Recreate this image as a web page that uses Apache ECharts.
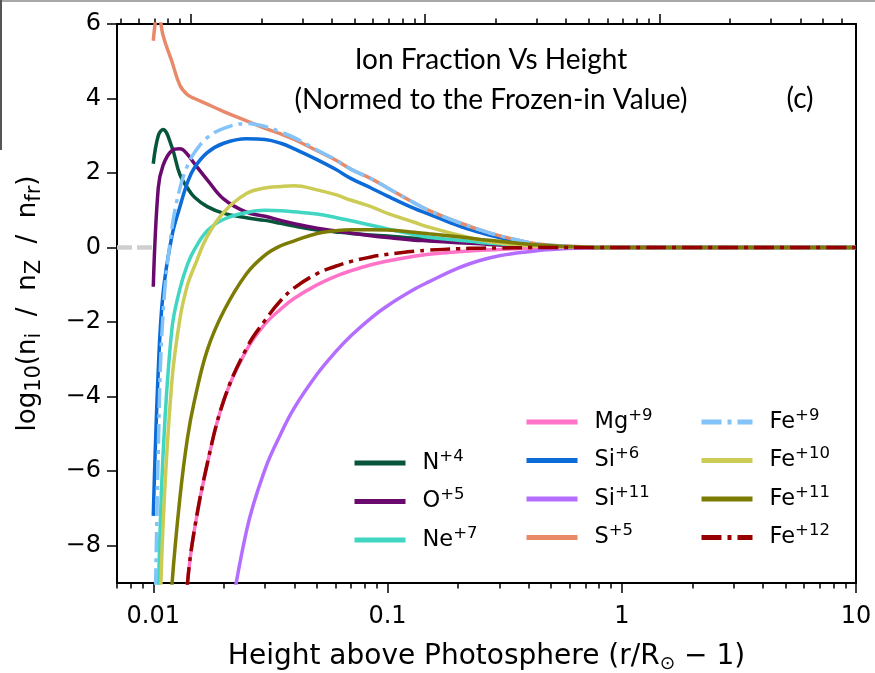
<!DOCTYPE html>
<html>
<head>
<meta charset="utf-8">
<script src="https://cdn.jsdelivr.net/npm/echarts@6/dist/echarts.min.js"></script>
<style>
  html, body { margin: 0; padding: 0; background: #fff; }
  #chart { width: 875px; height: 673px; }
</style>
</head>
<body>
<div id="chart"></div>
<script>
// heights above photosphere (r/Rsun - 1), shared by all curves
const heights = [0.01, 0.0105, 0.011, 0.012, 0.013, 0.014, 0.015, 0.017, 0.02, 0.025, 0.03, 0.035, 0.04,
  0.05, 0.06, 0.07, 0.085, 0.1, 0.13, 0.15, 0.2, 0.25, 0.3, 0.4, 0.5, 0.7, 1, 2, 5, 10]

// log10(ni / nZ / nfr), null = not drawn
const n4 = [2.25, 3.0, 3.17, 2.7, 1.95, 1.6, 1.35, 1.1, 0.92, 0.8, 0.73, 0.65, 0.58, 0.47, 0.42, 0.38, 0.34, 0.31, 0.25, 0.23, 0.17, 0.14, 0.11, 0.07, 0.04, 0.01, 0, 0, 0, 0]
const o5 = [-1.05, 1.6, 2.2, 2.6, 2.65, 2.5, 2.25, 1.82, 1.3, 0.95, 0.84, 0.73, 0.64, 0.52, 0.45, 0.39, 0.32, 0.27, 0.2, 0.18, 0.13, 0.1, 0.07, 0.04, 0.02, 0.01, 0, 0, 0, 0]
const ne7 = [null, -9.5, -5.6, -2.2, -1.1, -0.45, -0.05, 0.45, 0.76, 0.94, 1.0, 0.99, 0.96, 0.9, 0.81, 0.72, 0.6, 0.5, 0.35, 0.28, 0.2, 0.14, 0.1, 0.05, 0.03, 0.01, 0, 0, 0, 0]
const mg9 = [null, null, null, null, -12, -9.0, -7.55, -5.8, -4.1, -2.75, -2.05, -1.65, -1.36, -1.0, -0.77, -0.62, -0.46, -0.36, -0.23, -0.18, -0.11, -0.07, -0.05, -0.02, -0.01, 0, 0, 0, 0, 0]
const si6 = [-7.2, -3.3, -1.25, 0.3, 1.1, 1.75, 2.15, 2.55, 2.8, 2.92, 2.9, 2.8, 2.65, 2.36, 2.1, 1.85, 1.6, 1.38, 1.05, 0.9, 0.59, 0.4, 0.27, 0.12, 0.05, 0.01, 0, 0, 0, 0]
const si11 = [null, null, null, null, null, null, null, null, -11, -7.6, -5.95, -5.0, -4.3, -3.4, -2.8, -2.36, -1.89, -1.56, -1.12, -0.92, -0.55, -0.34, -0.22, -0.11, -0.05, -0.01, 0, 0, 0, 0]
const s5 = [5.55, 6.4, 5.7, 5.0, 4.35, 4.1, 4.0, 3.85, 3.65, 3.4, 3.2, 3.05, 2.9, 2.6, 2.35, 2.1, 1.85, 1.6, 1.2, 1.0, 0.68, 0.47, 0.32, 0.14, 0.06, 0.02, 0, 0, 0, 0]
const fe9 = [-13, -5.5, -1.8, 0.5, 1.6, 2.2, 2.55, 2.95, 3.2, 3.33, 3.25, 3.1, 2.95, 2.62, 2.36, 2.1, 1.85, 1.6, 1.2, 1.0, 0.68, 0.47, 0.32, 0.14, 0.06, 0.02, 0, 0, 0, 0]
const fe10 = [null, -12, -7.5, -3.6, -1.9, -1.0, -0.5, 0.3, 0.95, 1.45, 1.6, 1.64, 1.66, 1.55, 1.42, 1.27, 1.1, 0.92, 0.68, 0.55, 0.34, 0.2, 0.12, 0.05, 0.02, 0.01, 0, 0, 0, 0]
const fe11 = [null, null, -13, -9.1, -6.7, -5.1, -4.1, -2.75, -1.7, -0.7, -0.2, 0.05, 0.18, 0.38, 0.45, 0.48, 0.48, 0.47, 0.41, 0.37, 0.29, 0.22, 0.17, 0.09, 0.05, 0.01, 0, 0, 0, 0]
const fe12 = [null, null, null, null, -12, -9.0, -7.55, -5.8, -4.1, -2.7, -1.95, -1.42, -1.08, -0.7, -0.5, -0.37, -0.25, -0.18, -0.1, -0.07, -0.03, -0.015, -0.01, 0, 0, 0, 0, 0, 0, 0]

// frozen-in reference (grey dashes at the left)
const refHeights = [0.007, 0.01]
const refValues = [0, 0]

// axes
const xMin = 0.007
const xMax = 10
const xMajor = [0.01, 0.1, 1, 10]
const xTickLabels = ['0.01', '0.1', '1', '10']
const topMajor = [0.01447, 0.1447, 1.447] // upper axis is a shifted scale, labels cut off
const yTicks = [-8, -6, -4, -2, 0, 2, 4, 6]

const lg = Math.log10
const dashDot = [20, 6, 4, 6]

const ions = [
  { name: 'N+4', values: n4, color: '#07553a' },
  { name: 'O+5', values: o5, color: '#6b0a6e' },
  { name: 'Ne+7', values: ne7, color: '#40d6c2' },
  { name: 'Mg+9', values: mg9, color: '#ff73c8' },
  { name: 'Si+6', values: si6, color: '#0b6bd8' },
  { name: 'Si+11', values: si11, color: '#b46eff' },
  { name: 'S+5', values: s5, color: '#e8896a' },
  { name: 'Fe+9', values: fe9, color: '#82c4fa', type: dashDot },
  { name: 'Fe+10', values: fe10, color: '#cbcb55' },
  { name: 'Fe+11', values: fe11, color: '#7c7c04' },
  { name: 'Fe+12', values: fe12, color: '#960000', type: dashDot }
]

function minorTicks(majors) {
  const out = []
  majors.concat([majors[0] / 10]).forEach(m => {
    for (let k = 2; k <= 9; k++) {
      const v = lg(m * k)
      if (v >= lg(xMin) - 1e-9 && v <= lg(xMax) + 1e-9) out.push(v)
    }
  })
  return out
}

function xAxisDef(position, ticks, len, labels) {
  return {
    type: 'value',
    position: position,
    min: lg(xMin),
    max: lg(xMax),
    splitLine: { show: false },
    axisLine: { show: true, onZero: false, lineStyle: { color: '#000', width: 2 } },
    axisTick: { show: true, customValues: ticks, length: len, lineStyle: { color: '#000', width: 1.5 } },
    axisLabel: labels ? {
      show: true,
      customValues: xMajor.map(lg),
      margin: 22,
      fontFamily: 'DejaVu Sans',
      fontSize: 24,
      color: '#000',
      formatter: v => xTickLabels[xMajor.findIndex(t => Math.abs(lg(t) - v) < 1e-6)]
    } : { show: false }
  }
}

const supRich = {
  b: { fontSize: 22.5, lineHeight: 30, padding: [0, 0, 0, 12] },
  sup: { fontSize: 16.5, lineHeight: 15, verticalAlign: 'top' }
}

function legendDef(names, left, top) {
  return {
    orient: 'vertical',
    left: left,
    top: top,
    padding: 0,
    data: names,
    itemWidth: 51,
    itemHeight: 6,
    itemGap: 12,
    lineStyle: { width: 5 },
    itemStyle: { opacity: 0 },
    selectedMode: false,
    textStyle: {
      fontFamily: 'DejaVu Sans',
      color: '#000',
      rich: supRich
    },
    formatter: name => {
      const m = name.match(/^([A-Za-z]+)(\+\d+)$/)
      return '{b|' + m[1] + '}{sup|' + m[2] + '}'
    }
  }
}

const xNameStyle = {
  fontFamily: 'DejaVu Sans', fontSize: 28, color: '#000', lineHeight: 34,
  rich: { sub: { fontSize: 18.5, lineHeight: 16, verticalAlign: 'bottom' } }
}
const yNameStyle = {
  fontFamily: 'DejaVu Sans', fontSize: 26, color: '#000', lineHeight: 34,
  rich: { sub: { fontSize: 21, lineHeight: 18, verticalAlign: 'bottom' } }
}

const series = [{
  name: 'ref',
  type: 'line',
  silent: true,
  symbol: 'none',
  data: refHeights.map((h, i) => [lg(h), refValues[i]]),
  lineStyle: { color: '#cfcfcf', width: 4.5, type: [15, 5] }
}].concat(ions.map(ion => ({
  name: ion.name,
  type: 'line',
  symbol: 'none',
  smooth: 0.4,
  clip: true,
  data: heights.map((h, i) => [lg(h), ion.values[i]]),
  lineStyle: { color: ion.color, width: 3.5, type: ion.type || 'solid' },
  itemStyle: { color: ion.color }
})))

const chart = echarts.init(document.getElementById('chart'), null, { renderer: 'canvas' })

chart.setOption({
  animation: false,
  backgroundColor: '#fff',
  grid: { left: 117, right: 19, top: 24, bottom: 90, containLabel: false, outerBoundsMode: 'none' },
  xAxis: [
    Object.assign(xAxisDef('bottom', xMajor.map(lg), 10, true), {
      name: 'Height above Photosphere (r/R{sub|\u2299} \u2212 1)',
      nameLocation: 'middle',
      nameGap: 57,
      nameTextStyle: xNameStyle
    }),
    xAxisDef('bottom', minorTicks(xMajor), 5.5, false),
    xAxisDef('top', topMajor.map(lg), 10, false),
    xAxisDef('top', minorTicks(topMajor), 5.5, false)
  ],
  yAxis: [{
    type: 'value',
    min: -9,
    max: 6,
    position: 'left',
    splitLine: { show: false },
    axisLine: { show: true, onZero: false, lineStyle: { color: '#000', width: 2 } },
    axisTick: { show: true, customValues: yTicks, length: 10, lineStyle: { color: '#000', width: 1.5 } },
    axisLabel: {
      customValues: yTicks,
      margin: 16,
      fontFamily: 'DejaVu Sans',
      fontSize: 24,
      color: '#000',
      formatter: v => String(v).replace('-', '\u2212')
    },
    name: 'log{sub|10}(n{sub|i}  /  n{sub|Z}  /  n{sub|fr})',
    nameLocation: 'middle',
    nameRotate: 90,
    nameGap: 72,
    nameTextStyle: yNameStyle
  }, {
    type: 'value',
    min: -9,
    max: 6,
    position: 'right',
    splitLine: { show: false },
    axisLine: { show: true, onZero: false, lineStyle: { color: '#000', width: 2 } },
    axisTick: { show: false },
    axisLabel: { show: false }
  }],
  legend: [
    legendDef(['N+4', 'O+5', 'Ne+7'], 352, 448),
    legendDef(['Mg+9', 'Si+6', 'Si+11', 'S+5'], 524, 407),
    legendDef(['Fe+9', 'Fe+10', 'Fe+11', 'Fe+12'], 699, 407)
  ],
  graphic: [
    { type: 'text', x: 491, y: 60, style: { text: 'Ion Fraction Vs Height', font: '28px Lato', fill: '#000', textAlign: 'center', textVerticalAlign: 'middle' } },
    { type: 'text', x: 491, y: 100, style: { text: '(Normed to the Frozen-in Value)', font: '28px Lato', fill: '#000', textAlign: 'center', textVerticalAlign: 'middle' } },
    { type: 'text', x: 800, y: 99, style: { text: '(c)', font: '28px Lato', fill: '#000', textAlign: 'center', textVerticalAlign: 'middle' } },
    { type: 'rect', shape: { x: 0, y: 0, width: 875, height: 2 }, style: { fill: '#a8a8a8' } },
    { type: 'rect', shape: { x: 0, y: 0, width: 2, height: 150 }, style: { fill: '#555' } }
  ],
  series: series
})
</script>
</body>
</html>
